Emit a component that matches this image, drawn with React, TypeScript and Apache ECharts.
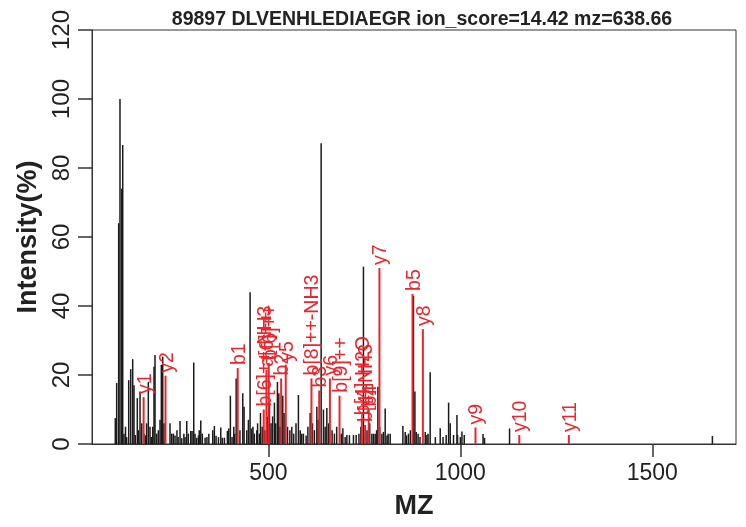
import React, { useEffect, useRef } from "react";
import * as echarts from "echarts";

const TITLE = "89897 DLVENHLEDIAEGR ion_score=14.42 mz=638.66";
const X_TICKS = [500, 1000, 1500];

// unannotated peaks (black)
const peakMz = [
  101.4, 105.0, 110.2, 113.6, 118.1, 120.7, 124.0, 128.0, 131.0, 136.3, 141.5, 146.7, 150.1, 153.5,
  158.7, 162.0, 165.8, 170.2, 176.0, 180.0, 183.0, 187.4, 191.8, 195.0, 198.8, 202.2, 204.8, 209.3,
  213.5, 217.9, 221.3, 224.9, 228.3, 243.9, 248.4, 252.5, 257.0, 262.0, 265.0, 270.0, 274.4, 280.0,
  283.0, 287.5, 291.6, 297.9, 301.3, 305.7, 309.1, 313.5, 318.0, 320.0, 324.0, 328.1, 335.2, 340.0,
  345.0, 355.2, 359.4, 363.8, 370.0, 376.1, 380.2, 385.5, 393.3, 396.9, 401.1, 405.5, 410.0, 412.0,
  416.2, 426.0, 433.4, 436.8, 443.8, 448.0, 452.4, 456.8, 460.0, 463.6, 469.9, 472.0, 476.7, 479.5,
  484.0, 491.0, 497.0, 503.0, 507.0, 511.0, 515.8, 519.0, 523.6, 527.3, 531.0, 537.5, 541.0, 550.0,
  556.0, 561.1, 566.0, 572.0, 578.3, 583.0, 587.0, 591.3, 598.4, 603.0, 608.8, 615.0, 620.0, 626.3,
  630.0, 637.5, 643.5, 648.0, 652.3, 657.0, 666.0, 672.0, 678.0, 690.0, 694.0, 700.0, 704.5, 711.2,
  721.7, 728.7, 736.0, 741.0, 747.7, 757.0, 764.0, 769.6, 773.8, 778.2, 782.0, 785.3, 790.0, 795.7,
  799.8, 804.3, 809.0, 812.0, 817.3, 850.4, 856.4, 860.0, 865.0, 870.0, 878.0, 881.7, 885.1, 890.0,
  895.0, 908.6, 912.9, 916.0, 921.5, 935.0, 947.6, 955.0, 963.2, 969.5, 973.7, 982.3, 991.2, 992.8,
  1000.0, 1004.2, 1010.2, 1059.2, 1063.1, 1128.2, 1656.5,
];
const peakIntensity = [
  7.5, 17.7, 64, 100, 74, 86.7, 3, 5, 2, 18.5, 21.7, 24.6, 17, 2.6,
  13.3, 4, 15.2, 6, 3, 2.5, 6, 18, 5, 2, 5, 22.4, 25.8, 3,
  4, 7, 23, 25.3, 6, 6, 3, 3, 2.5, 4, 2, 6.7, 1.7, 3,
  2, 6.7, 3, 3.8, 3.8, 23.6, 3, 1.8, 2.5, 4, 6.8, 3, 1.8, 2,
  3, 4, 5.2, 2.4, 2, 4.8, 1.8, 1.8, 3.8, 4.5, 14, 2, 5, 3,
  19, 4, 14.7, 10.8, 4, 7, 44, 4.5, 5, 3, 4, 6, 3, 9,
  5, 4, 8, 12, 6, 8, 12, 6, 18, 14.7, 5, 14, 9, 5,
  4, 5, 3, 6, 14.2, 4, 3, 3, 2.5, 5, 9, 6, 4, 10.8,
  7, 87.2, 10, 5, 10.4, 6, 4, 3, 5, 3, 4.6, 2, 2.6, 2.6,
  2.6, 2.6, 3, 5, 51.4, 4, 6, 3, 3, 3, 4, 16.6, 5, 3,
  3.5, 10.3, 2.5, 3, 3, 5.2, 3.5, 2.5, 3, 4, 42.9, 15.2, 3.5, 3,
  2, 3.5, 2.6, 3, 20.8, 2, 4.6, 2, 2.6, 12, 6, 2.6, 8.4, 2.6,
  2, 3.6, 2.6, 2.9, 1.8, 4.5, 2.3,
];

// annotated fragment ions (red)
const ionLabels = [
  "y1", "y2", "b1", "b[6]++-NH3", "a[6]++", "b[6]++", "b2", "y5", "b[8]++-NH3", "b3", "y6",
  "b[9]++", "b[4]-H2O", "b[4]-NH3", "b4", "y7", "b5", "y8", "y9", "y10", "y11",
];
const ionMz = [
  175.12, 232.14, 420.24, 488.0, 495.0, 501.0, 533.33, 545.30, 612.3, 632.40, 660.33,
  685.4, 743.43, 752.0, 761.44, 789.37, 875.48, 902.46, 1039.52, 1153.56, 1282.60,
];
const ionIntensity = [
  13.6, 19.8, 22, 10, 21.5, 23.5, 19, 23, 19, 15.5, 19,
  14, 7.5, 5.5, 10, 51, 43.5, 33.3, 4.8, 2.6, 2.6,
];

const FONT = "'Liberation Sans', Arial, Helvetica, sans-serif";
const RED = "#e8262b";
const DARK = "#222222";

export default function App() {
  const ref = useRef<HTMLDivElement>(null);
  useEffect(() => {
    const chart = echarts.init(ref.current!, null, { renderer: "svg" });
    const black = peakMz.map((m, i) => [m, peakIntensity[i]]);
    const red = ionMz.map((m, i) => [m, ionIntensity[i]]);
    chart.setOption({
      animation: false,
      title: {
        text: TITLE,
        left: 417,
        top: 3,
        textAlign: "center",
        textStyle: { fontFamily: FONT, fontWeight: "bold", fontSize: 19.5, color: DARK },
      },
      grid: { left: 92, right: 10, top: 30, bottom: 83, show: true, borderColor: "#333", borderWidth: 1 },
      xAxis: {
        type: "value",
        min: 40.7,
        max: 1718,
        name: "MZ",
        nameLocation: "middle",
        nameGap: 47,
        nameTextStyle: { fontFamily: FONT, fontWeight: "bold", fontSize: 27, color: DARK },
        axisLine: { show: true, onZero: false, lineStyle: { color: "#333", width: 1 } },
        axisTick: { show: true, customValues: X_TICKS, length: 13, lineStyle: { color: "#333", width: 1.5 } },
        axisLabel: {
          customValues: X_TICKS,
          formatter: (v: number) => String(v),
          fontSize: 23,
          fontFamily: FONT,
          color: DARK,
          margin: 16,
        },
        splitLine: { show: false },
      },
      yAxis: {
        type: "value",
        min: 0,
        max: 120,
        interval: 20,
        name: "Intensity(%)",
        nameLocation: "middle",
        nameGap: 49,
        nameTextStyle: { fontFamily: FONT, fontWeight: "bold", fontSize: 27, color: DARK },
        axisLine: { show: true, lineStyle: { color: "#333", width: 1 } },
        axisTick: { show: true, length: 14, lineStyle: { color: "#333", width: 1.5 } },
        axisLabel: { rotate: 90, fontSize: 24, fontFamily: FONT, color: DARK, margin: 20 },
        splitLine: { show: false },
      },
      series: [
        {
          type: "custom",
          data: black,
          encode: { x: 0, y: 1 },
          renderItem: (params: any, api: any) => {
            const x = api.value(0);
            const y = api.value(1);
            const top = api.coord([x, y]);
            const base = api.coord([x, 0]);
            return {
              type: "line",
              shape: { x1: base[0], y1: base[1], x2: top[0], y2: top[1] },
              style: { stroke: "#1a1a1a", lineWidth: 1.5 },
            };
          },
        },
        {
          type: "custom",
          data: red,
          encode: { x: 0, y: 1 },
          z: 3,
          renderItem: (params: any, api: any) => {
            const x = api.value(0);
            const y = api.value(1);
            const top = api.coord([x, y]);
            const base = api.coord([x, 0]);
            return {
              type: "group",
              children: [
                {
                  type: "line",
                  shape: { x1: base[0], y1: base[1], x2: top[0], y2: top[1] },
                  style: { stroke: RED, lineWidth: 2 },
                },
                {
                  type: "text",
                  x: top[0],
                  y: top[1] - 3,
                  rotation: Math.PI / 2,
                  style: {
                    text: ionLabels[params.dataIndex],
                    fill: RED,
                    fontSize: 19.5,
                    fontFamily: FONT,
                    align: "left",
                    verticalAlign: "middle",
                  },
                },
              ],
            };
          },
        },
      ],
    });
    return () => chart.dispose();
  }, []);
  return <div ref={ref} style={{ position: "fixed", left: 0, top: 0, width: 746, height: 527 }} />;
}
